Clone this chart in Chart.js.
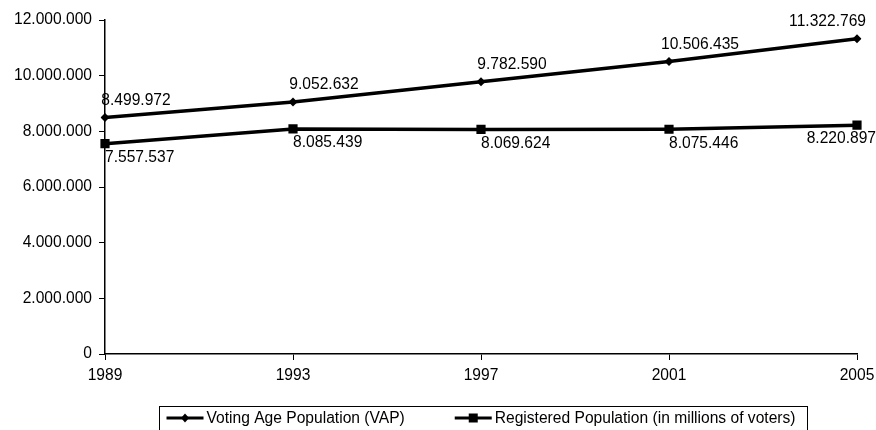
<!DOCTYPE html>
<html>
<head>
<meta charset="utf-8">
<script src="https://cdn.jsdelivr.net/npm/chart.js@4/dist/chart.umd.min.js"></script>
<style>
  html, body { margin: 0; padding: 0; background: #fff; }
  #wrap { width: 876px; height: 430px; overflow: hidden; }
</style>
</head>
<body>
<div id="wrap"><canvas id="votersChart" width="876" height="430"></canvas></div>
<script>
// data
const years = ['1989', '1993', '1997', '2001', '2005'];
const vapValues = [8499972, 9052632, 9782590, 10506435, 11322769];
const registeredValues = [7557537, 8085439, 8069624, 8075446, 8220897];
const yTicks = [0, 2000000, 4000000, 6000000, 8000000, 10000000, 12000000];
const seriesNames = ['Voting Age Population (VAP)', 'Registered Population (in millions of voters)'];

const FONT = { family: '"Liberation Sans", Arial, sans-serif', size: 15.6 };

// 8499972 -> "8.499.972"
function formatNumber(n) {
  return String(n).replace(/\B(?=(\d{3})+(?!\d))/g, '.');
}

function drawMarker(ctx, style, x, y) {
  ctx.fillStyle = '#000';
  ctx.beginPath();
  if (style === 'rect') {
    ctx.rect(x - 4.5, y - 4.5, 9, 9);
  } else {
    ctx.moveTo(x, y - 4.5);
    ctx.lineTo(x + 4, y);
    ctx.lineTo(x, y + 4.5);
    ctx.lineTo(x - 4, y);
    ctx.closePath();
  }
  ctx.fill();
}

/**
 * Value labels next to every point
 */
const valueLabels = {
  id: 'valueLabels',
  afterDatasetsDraw(chart) {
    const ctx = chart.ctx;
    ctx.save();
    ctx.font = FONT.size + 'px ' + FONT.family;
    ctx.fillStyle = '#000';
    ctx.textBaseline = 'middle';
    chart.data.datasets.forEach((ds, di) => {
      const meta = chart.getDatasetMeta(di);
      meta.data.forEach((pt, i) => {
        const text = formatNumber(ds.data[i]);
        const last = i === meta.data.length - 1;
        if (ds.labelSide === 'above') {
          ctx.textAlign = last ? 'right' : 'center';
          ctx.fillText(text, last ? pt.x + 9 : pt.x + 31, pt.y - 17);
        } else {
          ctx.textAlign = last ? 'right' : 'left';
          ctx.fillText(text, last ? pt.x + 19 : pt.x, pt.y + 14);
        }
      });
    });
    ctx.restore();
  }
};

/**
 * Boxed legend under the axis (line + marker samples)
 */
const boxedLegend = {
  id: 'boxedLegend',
  afterDraw(chart) {
    const ctx = chart.ctx;
    const area = chart.chartArea;
    ctx.save();
    ctx.font = FONT.size + 'px ' + FONT.family;
    const sampleW = 37, gap = 3, spacing = 50;
    const items = chart.data.datasets.map(ds => ({
      label: ds.label,
      style: ds.pointStyle,
      width: sampleW + gap + ctx.measureText(ds.label).width
    }));
    const total = items.reduce((s, it) => s + it.width, 0) + spacing * (items.length - 1);
    let x = (area.left + area.right) / 2 - total / 2;
    const y = 418;

    ctx.strokeStyle = '#000';
    ctx.lineWidth = 1;
    ctx.strokeRect(Math.round(x - 8) + 0.5, 406.5, Math.round(total + 19), 40);

    ctx.textBaseline = 'middle';
    ctx.textAlign = 'left';
    items.forEach(it => {
      ctx.strokeStyle = '#000';
      ctx.lineWidth = 3;
      ctx.beginPath();
      ctx.moveTo(x, y);
      ctx.lineTo(x + sampleW, y);
      ctx.stroke();
      drawMarker(ctx, it.style, x + sampleW / 2, y);
      ctx.fillStyle = '#000';
      ctx.fillText(it.label, x + sampleW + gap, y + 1);
      x += it.width + spacing;
    });
    ctx.restore();
  }
};

const ctx = document.getElementById('votersChart').getContext('2d');

new Chart(ctx, {
  type: 'line',
  data: {
    labels: years,
    datasets: [
      {
        label: seriesNames[0],
        data: vapValues,
        borderColor: '#000',
        backgroundColor: '#000',
        borderWidth: 3.5,
        pointStyle: 'rectRot',
        pointRadius: 4.5,
        pointBorderWidth: 0,
        tension: 0,
        fill: false,
        labelSide: 'above'
      },
      {
        label: seriesNames[1],
        data: registeredValues,
        borderColor: '#000',
        backgroundColor: '#000',
        borderWidth: 3.5,
        pointStyle: 'rect',
        pointRadius: 6.5,
        pointBorderWidth: 0,
        tension: 0,
        fill: false,
        labelSide: 'below'
      }
    ]
  },
  options: {
    responsive: false,
    animation: false,
    devicePixelRatio: 1,
    layout: {
      padding: { top: 20, right: 19, bottom: 36, left: 0 }
    },
    plugins: {
      legend: { display: false },
      tooltip: { enabled: false }
    },
    scales: {
      x: {
        offset: false,
        grid: { drawOnChartArea: false, color: '#000', tickLength: 6, tickWidth: 1 },
        border: { display: true, color: '#000', width: 1.5 },
        ticks: { color: '#000', font: FONT, padding: 6, maxRotation: 0, autoSkip: false },
        afterFit(scale) {
          scale.height = 40;
          scale.paddingLeft = 0;
          scale.paddingRight = 0;
        }
      },
      y: {
        min: 0,
        max: 12000000,
        grid: { drawOnChartArea: false, color: '#000', tickLength: 6, tickWidth: 1 },
        border: { display: true, color: '#000', width: 1.5 },
        ticks: {
          color: '#000',
          font: FONT,
          padding: 7,
          callback(value) { return formatNumber(value); }
        },
        afterBuildTicks(scale) { scale.ticks = yTicks.map(v => ({ value: v })); },
        afterFit(scale) {
          scale.width = 105;
          scale.paddingTop = 0;
          scale.paddingBottom = 0;
        }
      }
    }
  },
  plugins: [valueLabels, boxedLegend]
});
</script>
</body>
</html>
